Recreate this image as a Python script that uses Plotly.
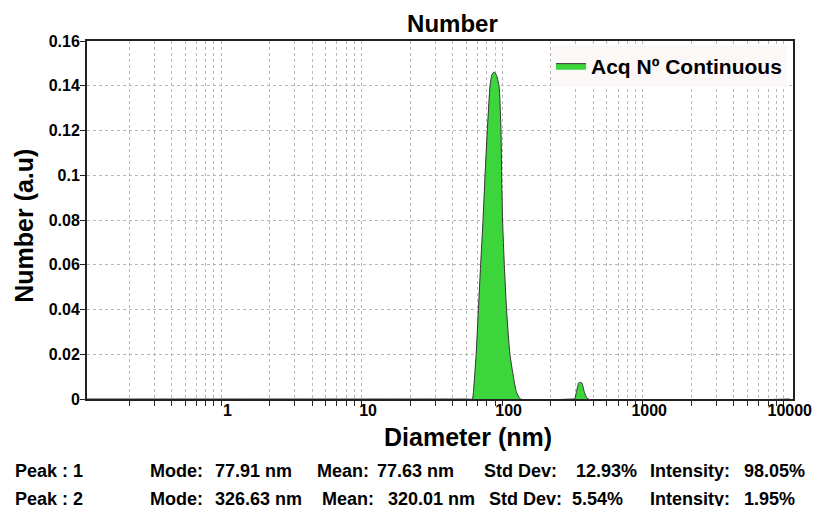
import plotly.graph_objects as go

# ---- data ----
diameter_nm = [0.1, 50, 55.2, 56.1, 58.7, 60.9, 63.2, 65.7, 67.9, 70.5, 73.7, 76.0, 78.7, 81.5,
               85.4, 88.2, 89.1, 90.5, 93.1, 96.6, 102.1, 113.7, 121.3,
               290, 295, 303, 315, 323, 332, 346, 366, 10000]
number_au = [0, 0, 0, 0.003, 0.02, 0.04, 0.06, 0.08, 0.10, 0.12, 0.14, 0.1450, 0.1462, 0.1450,
             0.14, 0.12, 0.10, 0.08, 0.06, 0.04, 0.02, 0.003, 0,
             0, 0, 0.003, 0.0072, 0.0074, 0.0072, 0.003, 0, 0]

x_tick_vals = [1, 10, 100, 1000, 10000]
x_tick_text = ["1", "10", "100", "1000", "10000"]
y_tick_vals = [0, 0.02, 0.04, 0.06, 0.08, 0.10, 0.12, 0.14, 0.16]
y_tick_text = ["0", "0.02", "0.04", "0.06", "0.08", "0.1", "0.12", "0.14", "0.16"]

peak_labels = ["Peak : 1", "Peak : 2"]
modes = ["77.91 nm", "326.63 nm"]
means = ["77.63 nm", "320.01 nm"]
std_devs = ["12.93%", "5.54%"]
intensities = ["98.05%", "1.95%"]

series_name = "Acq Nº Continuous"

# ---- styling ----
FONT = "Liberation Sans, Arial, sans-serif"
GREEN = "#3cd63c"
AXC = "#222222"
GRID = "#b8b8b8"

minor_vals = [m * 10 ** e for e in range(-1, 4) for m in range(2, 10)]

fig = go.Figure()
fig.add_trace(go.Scatter(
    x=diameter_nm, y=number_au, mode="lines", name=series_name,
    line=dict(color="#333333", width=1, shape="spline", smoothing=0.5),
    fill="tozeroy", fillcolor=GREEN, showlegend=True,
))

L, R, T, B = 87, 28, 41, 107
W, H = 824, 506
pw = W - L - R
ph = H - T - B

def px(xp):
    return (xp - L) / pw

def py(yp):
    return (H - B - yp) / ph

bold = dict(family=FONT, color="black", weight="bold")

fig.update_layout(
    width=W, height=H,
    margin=dict(l=L, r=R, t=T, b=B, pad=0),
    paper_bgcolor="white", plot_bgcolor="white",
    font=dict(family=FONT, color="black"),
    title=dict(text="Number", font=dict(size=24, **bold),
               x=px(454), xref="paper", xanchor="center",
               y=1 - 24 / H, yref="container", yanchor="middle"),
    xaxis=dict(
        type="log", range=[-1, 4.023],
        tickvals=x_tick_vals, ticktext=x_tick_text,
        ticks="outside", ticklen=1, tickcolor="rgba(0,0,0,0)",
        ticklabelstandoff=-5,
        tickfont=dict(size=16, **bold),
        showgrid=False, zeroline=False,
        showline=True, linecolor=AXC, linewidth=2, mirror=True,
        minor=dict(tickvals=minor_vals, ticks="outside", ticklen=5,
                   tickcolor=AXC, tickwidth=1,
                   showgrid=True, gridcolor=GRID, griddash="dot", gridwidth=1),
    ),
    xaxis2=dict(
        type="log", range=[-1, 4.023], overlaying="x", anchor="y", side="bottom",
        showgrid=False, zeroline=False, showline=False, showticklabels=False,
        ticks="",
        minor=dict(tickvals=minor_vals, ticks="inside", ticklen=4,
                   tickcolor=AXC, tickwidth=1, showgrid=False),
    ),
    yaxis=dict(
        range=[0, 0.16],
        tickvals=y_tick_vals, ticktext=y_tick_text,
        ticks="outside", ticklen=5, tickcolor=AXC,
        ticklabelstandoff=-3,
        tickfont=dict(size=16, **bold),
        showgrid=True, gridcolor=GRID, griddash="dot", gridwidth=1,
        zeroline=False,
        showline=True, linecolor=AXC, linewidth=2, mirror=True,
    ),
    legend=dict(
        x=px(553), y=py(66), xanchor="left", yanchor="middle",
        bgcolor="#fdf8f8", borderwidth=0,
        font=dict(size=21, **bold),
        itemwidth=30,
    ),
    showlegend=True,
)

ann = []
ann.append(dict(text="Diameter (nm)", x=px(470), y=py(437), xref="paper", yref="paper",
                xanchor="center", yanchor="middle", showarrow=False,
                font=dict(size=25, **bold)))
ann.append(dict(text="Number (a.u)", x=px(23), y=py(225.5), xref="paper", yref="paper",
                xanchor="center", yanchor="middle", showarrow=False, textangle=-90,
                font=dict(size=25, **bold)))

row_y = [470.7, 499]
cols_row = [
    [13, 148, 214, 316, 376.7, 483.3, 576, 650.7, 745],
    [13, 148, 214, 321, 387, 489, 571.7, 650.7, 745],
]
for i in range(2):
    vals = [peak_labels[i], "Mode:", modes[i], "Mean:", means[i],
            "Std Dev:", std_devs[i], "Intensity:", intensities[i]]
    for xp, txt in zip(cols_row[i], vals):
        ann.append(dict(text=txt, x=px(xp), y=py(row_y[i]), xref="paper", yref="paper",
                        xanchor="left", yanchor="middle", showarrow=False,
                        font=dict(size=18, **bold)))

fig.update_layout(annotations=ann)

fig.write_html("out.html")
